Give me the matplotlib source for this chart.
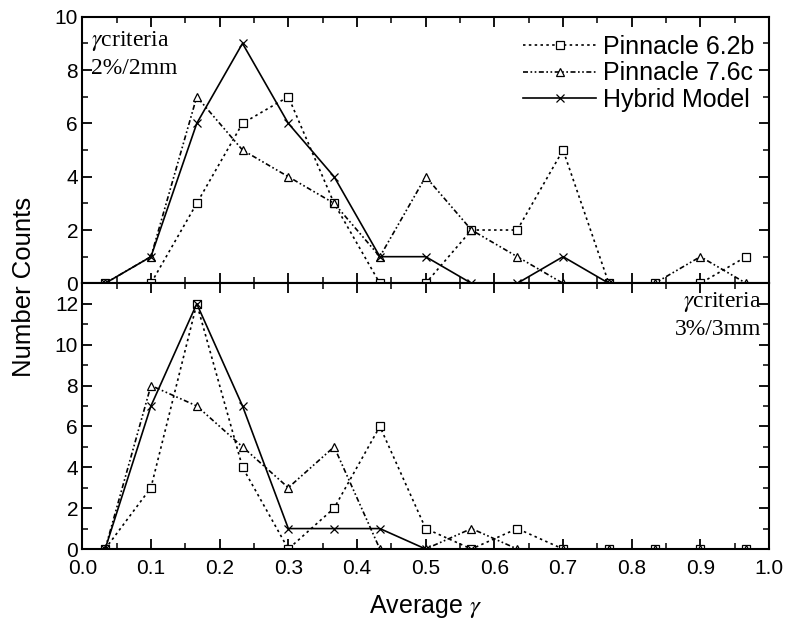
import matplotlib
matplotlib.use('Agg')
import matplotlib.pyplot as plt
from matplotlib.ticker import MultipleLocator

# bin centres of average gamma
x = [0.0333, 0.1, 0.1667, 0.2333, 0.3, 0.3667, 0.4333, 0.5,
     0.5667, 0.6333, 0.7, 0.7667, 0.8333, 0.9, 0.9667]

# 2%/2mm
top_p62 = [0, 0, 3, 6, 7, 3, 0, 0, 2, 2, 5, 0, 0, 0, 1]
top_p76 = [0, 1, 7, 5, 4, 3, 1, 4, 2, 1, 0, 0, 0, 1, 0]
top_hyb = [0, 1, 6, 9, 6, 4, 1, 1, 0, 0, 1, 0]

# 3%/3mm
bot_p62 = [0, 3, 12, 4, 0, 2, 6, 1, 0, 1, 0, 0, 0, 0, 0]
bot_p76 = [0, 8, 7, 5, 3, 5, 0, 0, 1, 0, 0, 0, 0, 0, 0]
bot_hyb = [0, 7, 12, 7, 1, 1, 1, 0, 0]

labels = ['Pinnacle 6.2b', 'Pinnacle 7.6c', 'Hybrid Model']

plt.rcParams['font.family'] = ['Liberation Sans', 'DejaVu Sans']
plt.rcParams['mathtext.fontset'] = 'stix'

fig = plt.figure(figsize=(7.88, 6.2), dpi=100)
ax1 = fig.add_axes([0.1044, 0.5430, 0.8716, 0.4300])
ax2 = fig.add_axes([0.1044, 0.1145, 0.8716, 0.4285])

dashdotdot = (0, (3, 1.5, 1, 1.5, 1, 1.5))
mk = dict(markerfacecolor='white', markeredgecolor='black', markersize=6,
          markeredgewidth=0.9, color='black', lw=1.2)


def draw(ax, p62, p76, hyb):
    ax.plot(x[:len(p62)], p62, linestyle=(0, (1.5, 2)), marker='s', label=labels[0], **mk)
    ax.plot(x[:len(p76)], p76, linestyle=dashdotdot, marker='^', label=labels[1], **mk)
    ax.plot(x[:len(hyb)], hyb, linestyle='-', marker='x', label=labels[2], **mk)
    ax.set_xlim(0, 1)
    ax.xaxis.set_major_locator(MultipleLocator(0.1))
    ax.xaxis.set_minor_locator(MultipleLocator(0.05))
    ax.yaxis.set_major_locator(MultipleLocator(2))
    ax.yaxis.set_minor_locator(MultipleLocator(1))
    ax.tick_params(which='both', direction='in', top=True, right=True, labelsize=15)
    ax.tick_params(which='major', length=7, width=1.3)
    ax.tick_params(which='minor', length=4, width=1.1)
    ax.tick_params(axis='y', pad=3)
    ax.tick_params(axis='x', pad=7)
    for s in ax.spines.values():
        s.set_linewidth(1.5)


draw(ax1, top_p62, top_p76, top_hyb)
ax1.set_ylim(0, 10)
ax1.tick_params(labelbottom=False)
ax1.text(0.012, 0.955, r'$\gamma$criteria' + '\n2%/2mm', transform=ax1.transAxes,
         family='Liberation Serif', fontsize=17, va='top', ha='left', linespacing=1.3)
ax1.legend(loc='upper right', bbox_to_anchor=(1.0102, 1.0113), frameon=False,
           fontsize=18, handlelength=2.9, handletextpad=0.3, borderaxespad=0.45,
           labelspacing=0.1, borderpad=0.4)

draw(ax2, bot_p62, bot_p76, bot_hyb)
ax2.set_ylim(0, 13)
ax2.text(0.988, 0.975, r'$\gamma$criteria' + '\n3%/3mm', transform=ax2.transAxes,
         family='Liberation Serif', fontsize=17, va='top', ha='right', linespacing=1.3)
ax2.set_xlabel(r'Average $\gamma$', fontsize=18, labelpad=11)

fig.text(0.031, 0.537, 'Number Counts', rotation=90, fontsize=18.5, ha='center', va='center')

fig.savefig('out.png', dpi=100)
